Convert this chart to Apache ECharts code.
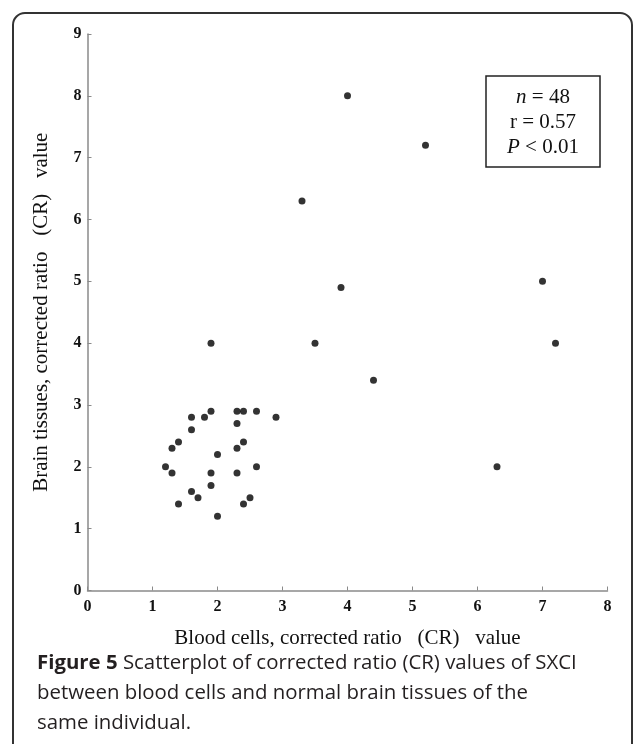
<!DOCTYPE html>
<html>
<head>
<meta charset="utf-8">
<script src="https://cdn.jsdelivr.net/npm/echarts@6/dist/echarts.min.js"></script>
<style>html,body{margin:0;padding:0;background:#fff;}#c{width:633px;height:744px;}</style>
</head>
<body>
<div id="c"></div>
<script>
// Blood cells CR (x) and brain tissues CR (y)
const bloodCR = [1.2,1.3,1.3,1.4,1.4,1.6,1.6,1.6,1.7,1.8,1.9,1.9,1.9,2.0,2.0,2.3,2.3,2.3,2.3,2.4,2.4,2.4,2.5,2.6,2.6,2.9,
                 1.9,3.3,3.5,3.9,4.0,4.4,5.2,6.3,7.0,7.2];
const brainCR = [2.0,2.3,1.9,2.4,1.4,2.8,2.6,1.6,1.5,2.8,2.9,1.9,1.7,2.2,1.2,2.9,2.7,2.3,1.9,2.9,2.4,1.4,1.5,2.9,2.0,2.8,
                 4.0,6.3,4.0,4.9,8.0,3.4,7.2,2.0,5.0,4.0];
const xTitle = 'Blood cells, corrected ratio   (CR)   value';
const yTitle = 'Brain tissues, corrected ratio   (CR)   value';
const statsLines = [['n', ' = 48'], ['', 'r = 0.57'], ['P', ' < 0.01']];
const captionBold = 'Figure 5';
const captionLines = [' Scatterplot of corrected ratio (CR) values of SXCI',
                      'between blood cells and normal brain tissues of the',
                      'same individual.'];

const points = bloodCR.map((x, i) => [x, brainCR[i]]);
const serif = '"Liberation Serif","DejaVu Serif",serif';
const sans = '"Open Sans","Noto Sans",sans-serif';

const chart = echarts.init(document.getElementById('c'));
const statsText = statsLines.map(l => (l[0] ? '{i|' + l[0] + '}' : '') + '{n|' + l[1] + '}').join('\n');

chart.setOption({
  animation: false,
  backgroundColor: '#fff',
  grid: { left: 87.5, right: 25.5, top: 34, bottom: 153.5 },
  xAxis: {
    type: 'value', min: 0, max: 8, interval: 1,
    name: xTitle, nameLocation: 'middle', nameGap: 37,
    nameTextStyle: { fontFamily: serif, fontSize: 21, color: '#111' },
    axisLine: { lineStyle: { color: '#8a8a8a', width: 1.5 } },
    axisTick: { show: true, inside: true, length: 4, lineStyle: { color: '#8a8a8a' } },
    axisLabel: { fontFamily: serif, fontWeight: 'bold', fontSize: 16, color: '#111', margin: 8 },
    splitLine: { show: false }
  },
  yAxis: {
    type: 'value', min: 0, max: 9, interval: 1,
    name: yTitle, nameLocation: 'middle', nameGap: 36, nameRotate: 90,
    nameTextStyle: { fontFamily: serif, fontSize: 21, color: '#111' },
    axisLine: { show: true, lineStyle: { color: '#8a8a8a', width: 1.5 } },
    axisTick: { show: true, inside: true, length: 4, lineStyle: { color: '#8a8a8a' } },
    axisLabel: { fontFamily: serif, fontWeight: 'bold', fontSize: 16, color: '#111', margin: 6 },
    splitLine: { show: false }
  },
  series: [{
    type: 'scatter', data: points, symbol: 'circle', symbolSize: 7,
    itemStyle: { color: '#000' }
  }],
  graphic: [
    { type: 'rect', shape: { x: 13, y: 13, width: 619, height: 780, r: 12 },
      style: { fill: 'none', stroke: '#333', lineWidth: 2 }, silent: true },
    { type: 'rect', shape: { x: 486, y: 76, width: 114, height: 91 },
      style: { fill: '#fff', stroke: '#222', lineWidth: 1.5 }, z: 10 },
    { type: 'text', x: 543, y: 122, z: 11,
      style: {
        text: statsText, align: 'center', verticalAlign: 'middle',
        fontFamily: serif, fontSize: 21, lineHeight: 25, fill: '#111',
        rich: {
          i: { fontFamily: serif, fontSize: 21, fontStyle: 'italic', lineHeight: 25, fill: '#111' },
          n: { fontFamily: serif, fontSize: 21, lineHeight: 25, fill: '#111' }
        }
      } },
    { type: 'text', x: 37, y: 663, z: 11,
      style: {
        text: '{b|' + captionBold + '}{r|' + captionLines[0] + '}', verticalAlign: 'middle',
        rich: {
          b: { fontFamily: sans, fontSize: 20.4, fontWeight: 'bold', fill: '#231f20' },
          r: { fontFamily: sans, fontSize: 20.4, fill: '#231f20' }
        }
      } },
    { type: 'text', x: 37, y: 693, z: 11,
      style: { text: captionLines[1], verticalAlign: 'middle', fontFamily: sans, fontSize: 20.4, fill: '#231f20' } },
    { type: 'text', x: 37, y: 723, z: 11,
      style: { text: captionLines[2], verticalAlign: 'middle', fontFamily: sans, fontSize: 20.4, fill: '#231f20' } }
  ]
});
</script>
</body>
</html>
